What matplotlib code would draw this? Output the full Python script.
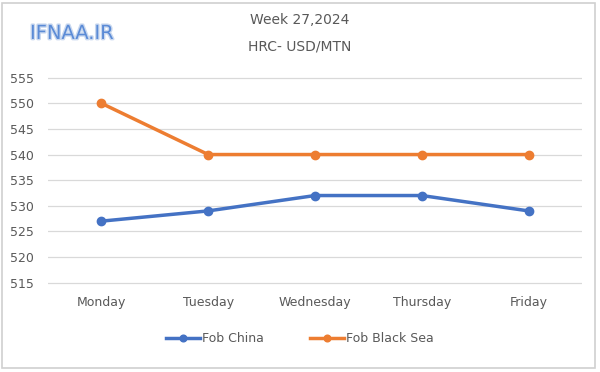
import matplotlib.pyplot as plt
import matplotlib.patheffects as pe
from matplotlib.patches import Rectangle

days = ['Monday', 'Tuesday', 'Wednesday', 'Thursday', 'Friday']
fob_china = [527, 529, 532, 532, 529]
fob_black_sea = [550, 540, 540, 540, 540]
y_ticks = [515, 520, 525, 530, 535, 540, 545, 550, 555]

grey = '#595959'

fig = plt.figure(figsize=(6, 3.72), dpi=100)
ax = fig.add_axes([0.08, 0.2347, 0.89, 0.562])

x = range(len(days))
ax.plot(x, fob_china, color='#4472C4', lw=2.5, marker='o', ms=6, label='Fob China', zorder=3)
ax.plot(x, fob_black_sea, color='#ED7D31', lw=2.5, marker='o', ms=6, label='Fob Black Sea', zorder=3)

ax.set_xlim(-0.5, len(days) - 0.5)
ax.set_ylim(514.6, 555.4)
ax.set_yticks(y_ticks)
ax.set_xticks(list(x))
ax.set_xticklabels(days)
ax.tick_params(length=0, labelsize=9, colors=grey, pad=8)
ax.tick_params(axis='y', pad=10)
ax.grid(axis='y', color='#D9D9D9', lw=0.9)
ax.set_axisbelow(True)
for s in ax.spines.values():
    s.set_visible(False)

fig.legend(loc='center', bbox_to_anchor=(0.5, 0.09), ncol=2, frameon=False,
           fontsize=9, labelcolor=grey, handlelength=2.7, handletextpad=0.2,
           columnspacing=3.7, markerscale=0.8)

fig.text(0.5, 0.945, 'Week 27,2024', ha='center', va='center', fontsize=10, color=grey)
fig.text(0.5, 0.875, 'HRC- USD/MTN', ha='center', va='center', fontsize=10, color=grey)
fig.text(0.05, 0.91, 'IFNAA.IR', ha='left', va='center', fontsize=14, color='#5B8BD6',
         path_effects=[pe.withStroke(linewidth=2, foreground='#C9D8EF')])

fig.patches.append(Rectangle((0.004, 0.012), 0.988, 0.98, transform=fig.transFigure,
                             fill=False, edgecolor='#D0D0D0', lw=1.2))

fig.savefig('out.png', dpi=100)
